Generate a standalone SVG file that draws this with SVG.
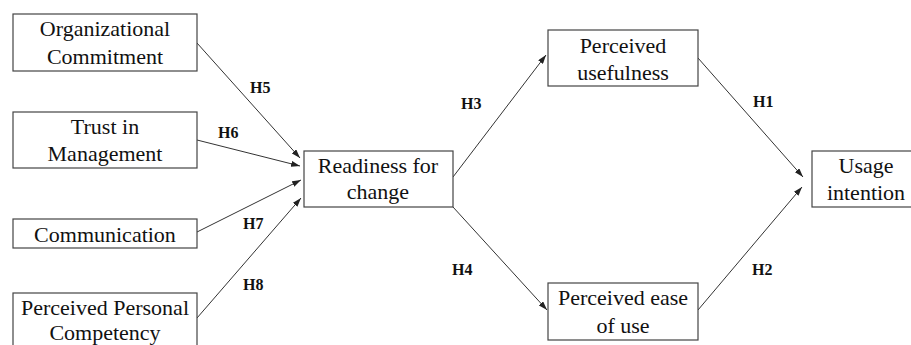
<svg xmlns="http://www.w3.org/2000/svg" width="911" height="345" viewBox="0 0 911 345">
<defs>
<marker id="ah" markerWidth="9" markerHeight="6" refX="9" refY="3" orient="auto" markerUnits="userSpaceOnUse">
<path d="M0,0 L9,3 L0,6 z" fill="#222"/>
</marker>
<style>
.box{fill:#fff;stroke:#444;stroke-width:1.2}
.t{font-family:"Liberation Serif","Times New Roman",serif;font-size:22px;fill:#111;text-anchor:middle}
.h{font-family:"Liberation Serif","Times New Roman",serif;font-size:16px;font-weight:bold;fill:#111}
.c{stroke:#333;stroke-width:1;fill:none;marker-end:url(#ah)}
</style>
</defs>
<rect width="911" height="345" fill="#fff"/>
<g id="connectors">
<line class="c" x1="197" y1="43" x2="300" y2="158"/>
<line class="c" x1="197" y1="140" x2="300" y2="166"/>
<line class="c" x1="197" y1="232" x2="301" y2="180"/>
<line class="c" x1="197" y1="318" x2="301" y2="198"/>
<line class="c" x1="453" y1="177" x2="546" y2="55"/>
<line class="c" x1="453" y1="207" x2="547" y2="310"/>
<line class="c" x1="698" y1="58" x2="803" y2="177"/>
<line class="c" x1="698" y1="310" x2="802" y2="187"/>
<text class="h" x="250" y="93">H5</text>
<text class="h" x="218" y="138">H6</text>
<text class="h" x="243" y="229">H7</text>
<text class="h" x="243" y="290">H8</text>
<text class="h" x="461" y="109">H3</text>
<text class="h" x="452" y="275">H4</text>
<text class="h" x="753" y="107">H1</text>
<text class="h" x="752" y="275">H2</text>
</g>
<g id="org-commitment">
<rect class="box" x="13" y="14" width="184" height="57"/>
<text class="t" x="105" y="36">Organizational</text>
<text class="t" x="105" y="64">Commitment</text>
</g>
<g id="trust">
<rect class="box" x="13" y="112" width="184" height="56"/>
<text class="t" x="105" y="134">Trust in</text>
<text class="t" x="105" y="161">Management</text>
</g>
<g id="communication">
<rect class="box" x="13" y="219" width="184" height="29"/>
<text class="t" x="105" y="242">Communication</text>
</g>
<g id="competency">
<rect class="box" x="13" y="293" width="184" height="60"/>
<text class="t" x="105" y="315">Perceived Personal</text>
<text class="t" x="105" y="340">Competency</text>
</g>
<g id="readiness">
<rect class="box" x="304" y="151" width="149" height="56"/>
<text class="t" x="378" y="173">Readiness for</text>
<text class="t" x="378" y="199">change</text>
</g>
<g id="usefulness">
<rect class="box" x="548" y="30" width="150" height="56"/>
<text class="t" x="623" y="53">Perceived</text>
<text class="t" x="623" y="80">usefulness</text>
</g>
<g id="ease">
<rect class="box" x="548" y="283" width="150" height="57"/>
<text class="t" x="623" y="305">Perceived ease</text>
<text class="t" x="623" y="333">of use</text>
</g>
<g id="usage">
<rect class="box" x="812" y="151" width="105" height="56"/>
<text class="t" x="866" y="173">Usage</text>
<text class="t" x="866" y="200">intention</text>
</g>
</svg>
